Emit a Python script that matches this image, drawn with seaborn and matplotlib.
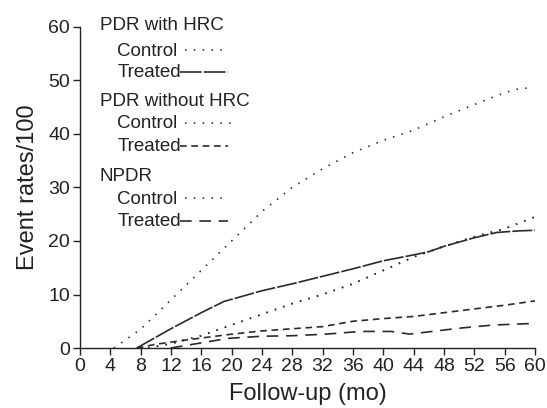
import pandas as pd
import matplotlib
matplotlib.use("Agg")
import matplotlib.pyplot as plt
import seaborn as sns

# follow-up months and event rates per series
hrc_ctrl_x = [4.5, 8, 12, 16, 20, 24, 28, 32, 36, 40, 44, 48, 52, 56, 58, 59.5]
hrc_ctrl_y = [0, 3.5, 9, 14.5, 20, 25.5, 30, 33.5, 36.5, 38.8, 40.7, 43.2, 45.5, 47.7, 48.5, 48.6]

hrc_trt_x = [7.5, 12, 16, 19, 24, 28, 32, 36, 40, 44, 46, 48, 52, 55, 58, 60]
hrc_trt_y = [0, 3.6, 6.6, 8.7, 10.7, 12.0, 13.4, 14.8, 16.3, 17.4, 18.0, 19.0, 20.6, 21.6, 21.9, 22.0]

nohrc_ctrl_x = [9, 12, 16, 20, 24, 28, 32, 36, 40, 44, 48, 52, 56, 60]
nohrc_ctrl_y = [0, 0.8, 2.3, 4.3, 6.3, 8.3, 10.0, 12.0, 14.5, 17.0, 19.0, 20.8, 22.3, 24.5]

nohrc_trt_x = [7.5, 10, 14, 19.5, 24, 28, 32, 36, 40, 44, 48, 52, 56, 60]
nohrc_trt_y = [0, 0.7, 1.5, 2.5, 3.2, 3.6, 4.0, 5.0, 5.5, 5.9, 6.6, 7.3, 8.0, 8.8]

# NPDR control is not distinguishable in the picture; it runs under the PDR w/o HRC control curve
npdr_ctrl_x = nohrc_ctrl_x
npdr_ctrl_y = nohrc_ctrl_y

npdr_trt_x = [12, 14.5, 19.5, 24, 28, 32.5, 37, 41, 43.5, 50, 54.5, 60]
npdr_trt_y = [0, 0.6, 1.8, 2.2, 2.3, 2.6, 3.1, 3.1, 2.6, 3.7, 4.3, 4.6]

series = {
    "hrc_ctrl": (hrc_ctrl_x, hrc_ctrl_y),
    "hrc_trt": (hrc_trt_x, hrc_trt_y),
    "nohrc_ctrl": (nohrc_ctrl_x, nohrc_ctrl_y),
    "nohrc_trt": (nohrc_trt_x, nohrc_trt_y),
    "npdr_ctrl": (npdr_ctrl_x, npdr_ctrl_y),
    "npdr_trt": (npdr_trt_x, npdr_trt_y),
}
frames = []
for name, (xs, ys) in series.items():
    frames.append(pd.DataFrame({"month": xs, "rate": ys, "series": name}))
df = pd.concat(frames, ignore_index=True)

# dash patterns in units of line width
dot = (0.9, 4.4)
long_solid = (12, 1.2)
short_dash = (4, 2.8)
long_dash = (7, 4.6)
dash_styles = {
    "hrc_ctrl": dot,
    "hrc_trt": long_solid,
    "nohrc_ctrl": dot,
    "nohrc_trt": short_dash,
    "npdr_ctrl": dot,
    "npdr_trt": long_dash,
}

sns.set_style("ticks")
plt.rcParams["font.family"] = ["Liberation Sans", "DejaVu Sans"]
ink = "#222222"
line_col = "#2a2a2a"
lw = 1.2

fig = plt.figure(figsize=(5.47, 4.08), dpi=100)
ax = fig.add_axes([0.146, 0.147, 0.832, 0.787])

sns.lineplot(data=df, x="month", y="rate", hue="series", style="series",
             palette={k: line_col for k in series}, dashes=dash_styles,
             linewidth=lw, sort=False, estimator=None, legend=False, ax=ax)

ax.set_xlim(0, 60)
ax.set_ylim(0, 60)
ax.set_xticks(range(0, 61, 4))
ax.set_yticks(range(0, 61, 10))
ax.tick_params(labelsize=14, colors=ink, length=5, width=1, pad=2)
ax.set_xlabel("Follow-up (mo)", fontsize=17, color=ink, labelpad=6)
ax.set_ylabel("Event rates/100", fontsize=17, color=ink, labelpad=7)
for side in ["top", "right"]:
    ax.spines[side].set_visible(False)
for side in ["left", "bottom"]:
    ax.spines[side].set_color(ink)
    ax.spines[side].set_linewidth(1)

# hand-made legend: group headers, then label with line sample on the right
legend_rows = [
    ("PDR with HRC", None, 1.003, 0.044),
    ("Control", dot, 0.925, 0.082),
    ("Treated", (13, 1.3), 0.858, 0.082),
    ("PDR without HRC", None, 0.767, 0.044),
    ("Control", dot, 0.698, 0.082),
    ("Treated", short_dash, 0.627, 0.082),
    ("NPDR", None, 0.534, 0.044),
    ("Control", dot, 0.464, 0.082),
    ("Treated", long_dash, 0.393, 0.082),
]
for label, dsh, yy, xx in legend_rows:
    ax.text(xx, yy, label, transform=ax.transAxes, fontsize=13.5, color=ink,
            va="center", ha="left")
    if dsh is not None:
        x0 = 0.232 if dsh == dot else 0.221
        x1 = 0.335 if (dsh == dot and 0.6 < yy < 0.8) else 0.325
        ax.plot([x0, x1], [yy + 0.003, yy + 0.003], transform=ax.transAxes,
                color=line_col, linewidth=lw, dashes=dsh, clip_on=False)

fig.savefig("out.png", dpi=100)
